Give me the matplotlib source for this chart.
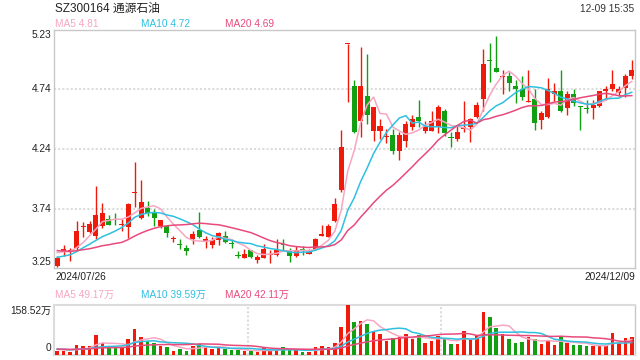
import numpy as np
import pandas as pd
import matplotlib
matplotlib.use("Agg")
import matplotlib.pyplot as plt

plt.rcParams['font.family'] = ['Liberation Sans', 'Noto Sans CJK SC', 'DejaVu Sans']

# daily K-line, 2024/07/26 .. 2024/12/09
opens = [3.27, 3.38, 3.39, 3.42, 3.59, 3.55, 3.52, 3.60, 3.66, 3.66,
         3.61, 3.59, 3.87, 3.67, 3.75, 3.72, 3.60, 3.60, 3.49, 3.45,
         3.42, 3.49, 3.57, 3.47, 3.44, 3.48, 3.52, 3.46, 3.36, 3.33,
         3.40, 3.32, 3.33, 3.36, 3.36, 3.45, 3.39, 3.35, 3.41, 3.37,
         3.41, 3.52, 3.51, 3.64, 3.90, 5.11, 4.76, 4.47, 4.68, 4.39,
         4.39, 4.34, 4.36, 4.22, 4.31, 4.42, 4.51, 4.39, 4.39, 4.42,
         4.56, 4.34, 4.32, 4.41, 4.42, 4.51, 4.66, 4.98, 4.91, 4.84,
         4.85, 4.76, 4.74, 4.63, 4.66, 4.48, 4.51, 4.70, 4.72, 4.58,
         4.70, 4.60, 4.58, 4.58, 4.60, 4.72, 4.74, 4.71, 4.75, 4.85]
highs = [3.35, 3.44, 3.42, 3.64, 3.63, 3.64, 3.93, 3.79, 3.69, 3.71,
         3.66, 3.79, 4.13, 3.98, 3.81, 3.74, 3.65, 3.60, 3.52, 3.49,
         3.44, 3.56, 3.72, 3.52, 3.51, 3.55, 3.56, 3.49, 3.39, 3.41,
         3.40, 3.36, 3.45, 3.40, 3.49, 3.49, 3.42, 3.43, 3.43, 3.41,
         3.50, 3.61, 3.62, 3.83, 4.40, 5.11, 4.81, 5.09, 5.03, 4.59,
         4.49, 4.41, 4.41, 4.38, 4.47, 4.52, 4.65, 4.47, 4.56, 4.61,
         4.57, 4.38, 4.43, 4.64, 4.50, 4.63, 5.07, 5.12, 5.18, 4.90,
         4.88, 4.81, 4.85, 4.90, 4.74, 4.56, 4.83, 4.79, 4.90, 4.72,
         4.74, 4.60, 4.65, 4.65, 4.72, 4.76, 4.90, 4.76, 4.86, 4.98]
lows = [3.26, 3.35, 3.31, 3.40, 3.51, 3.54, 3.49, 3.58, 3.61, 3.61,
        3.56, 3.50, 3.76, 3.66, 3.68, 3.60, 3.58, 3.51, 3.47, 3.41,
        3.36, 3.45, 3.50, 3.42, 3.42, 3.44, 3.46, 3.42, 3.33, 3.33,
        3.33, 3.29, 3.33, 3.29, 3.35, 3.40, 3.30, 3.34, 3.36, 3.37,
        3.40, 3.52, 3.51, 3.63, 3.88, 4.63, 4.37, 4.34, 4.45, 4.31,
        4.32, 4.29, 4.20, 4.15, 4.26, 4.40, 4.42, 4.37, 4.39, 4.37,
        4.35, 4.26, 4.31, 4.38, 4.30, 4.50, 4.56, 4.80, 4.88, 4.70,
        4.72, 4.62, 4.65, 4.63, 4.40, 4.41, 4.50, 4.64, 4.55, 4.52,
        4.60, 4.40, 4.54, 4.49, 4.59, 4.65, 4.72, 4.68, 4.67, 4.82]
closes = [3.33, 3.41, 3.40, 3.56, 3.60, 3.62, 3.69, 3.71, 3.61, 3.65,
          3.62, 3.78, 3.88, 3.80, 3.71, 3.67, 3.65, 3.54, 3.50, 3.44,
          3.39, 3.53, 3.51, 3.49, 3.48, 3.54, 3.47, 3.45, 3.35, 3.37,
          3.34, 3.34, 3.41, 3.37, 3.40, 3.44, 3.35, 3.40, 3.40, 3.38,
          3.49, 3.53, 3.60, 3.78, 4.26, 5.11, 4.38, 4.76, 4.52, 4.59,
          4.43, 4.35, 4.22, 4.36, 4.45, 4.49, 4.47, 4.42, 4.47, 4.59,
          4.37, 4.33, 4.38, 4.42, 4.49, 4.61, 4.95, 4.97, 4.88, 4.85,
          4.79, 4.74, 4.67, 4.64, 4.46, 4.54, 4.74, 4.72, 4.56, 4.70,
          4.62, 4.59, 4.57, 4.61, 4.72, 4.74, 4.78, 4.74, 4.85, 4.90]
# volume, 万
volumes = [12.7, 12.7, 8.5, 31.7, 28.5, 28.5, 63.4, 39.3, 26.4, 26.4,
           21.1, 50.7, 82.4, 57.0, 44.4, 39.3, 28.5, 26.4, 12.7, 19.0,
           12.7, 29.6, 35.9, 26.4, 19.0, 23.2, 19.0, 15.8, 15.8, 12.7,
           12.7, 8.5, 23.2, 12.7, 19.0, 25.4, 15.8, 15.8, 8.5, 8.5,
           24.3, 28.5, 24.3, 39.3, 88.8, 158.52, 103.6, 107.8, 98.3, 74.0,
           66.6, 45.4, 52.8, 56.0, 66.6, 50.7, 63.4, 37.0, 44.4, 61.3,
           52.8, 34.9, 34.9, 76.1, 50.7, 63.4, 137.4, 120.5, 85.6, 66.6,
           50.7, 39.1, 41.2, 56.0, 50.7, 34.9, 45.4, 31.7, 56.0, 39.1,
           31.7, 31.7, 28.5, 28.5, 28.5, 28.5, 69.8, 37.0, 53.9, 57.0]
# sessions before the window, only used to seed the moving averages
prior_close = [3.47, 3.46, 3.45, 3.44, 3.46, 3.45, 3.44, 3.45, 3.44, 3.44,
               3.31, 3.29, 3.30, 3.28, 3.32, 3.37, 3.40, 3.39, 3.40]
prior_vol = [18, 22, 17, 20, 19, 21, 16, 18, 20, 19,
             17, 21, 18, 20, 19, 22, 17, 18, 20]

title = "SZ300164 通源石油"
stamp = "12-09 15:35"
date_first = "2024/07/26"
date_last = "2024/12/09"
ma_price_labels = ["MA5 4.81", "MA10 4.72", "MA20 4.69"]
ma_vol_labels = ["MA5 49.17万", "MA10 39.59万", "MA20 42.11万"]
price_ticks = [3.74, 4.24, 4.74]
ymin, ymax = 3.25, 5.23

RED = '#f01a0a'
GREEN = '#12a012'
MA_COLORS = ['#f7a6c2', '#2fc0e0', '#e84a7c']
GRID = '#dcdcdc'
EDGE = '#c8c8c8'

n = len(closes)
x = np.arange(n)
o = np.array(opens); c = np.array(closes)
h = np.array(highs); l = np.array(lows)
v = np.array(volumes)
up = c >= o
colors = np.where(up, RED, GREEN)

cs = pd.Series(prior_close + closes)
vs = pd.Series(prior_vol + volumes)
k = len(prior_close)

fig = plt.figure(figsize=(6.4, 3.6), dpi=100)
W, H = 640.0, 360.0

def box(x0, y0, x1, y1):
    return [x0 / W, 1 - y1 / H, (x1 - x0) / W, (y1 - y0) / H]

ax = fig.add_axes(box(54, 30, 635, 268))
axv = fig.add_axes(box(54, 305, 635, 355))

# price panel
for yt in price_ticks:
    ax.axhline(yt, color=GRID, lw=1.5, ls=(0, (1, 1)), zorder=0)
ax.vlines(x, l, h, colors=colors, lw=1.0, zorder=2)
body = np.maximum(np.abs(c - o), 0.008)
ax.bar(x, body, bottom=np.minimum(o, c), width=0.78, color=colors, lw=0, zorder=3)
for w, col in zip([5, 10, 20], MA_COLORS):
    ma = cs.rolling(w).mean().values[k:]
    ax.plot(x, ma, color=col, lw=1.1, zorder=4)
ax.set_xlim(-0.5, n - 0.5)
ax.set_ylim(ymin, ymax)
ax.set_xticks([]); ax.set_yticks([])
for s in ax.spines.values():
    s.set_color(EDGE); s.set_linewidth(1.0)

# volume panel
axv.bar(x, v, width=0.55, color=colors, lw=0, zorder=3)
for w, col in zip([5, 10, 20], MA_COLORS):
    ma = vs.rolling(w).mean().values[k:]
    axv.plot(x, ma, color=col, lw=1.1, zorder=4)
for xv in [n / 3 - 0.5, 2 * n / 3 - 0.5]:
    axv.axvline(xv, color=GRID, lw=1.5, ls=(0, (1, 1)), zorder=0)
axv.set_xlim(-0.5, n - 0.5)
axv.set_ylim(0, max(volumes))
axv.set_xticks([]); axv.set_yticks([])
for name, s in axv.spines.items():
    s.set_color(EDGE if name == 'right' else GRID)
    s.set_linewidth(1.0 if name == 'right' else 1.5)
    if name != 'right':
        s.set_linestyle((0, (1, 1)))

def t(px, py, s, **kw):
    fig.text(px / W, 1 - py / H, s, **kw)

t(55, 9, title, fontsize=8.5, va='center', ha='left', color='#222222')
t(634, 9, stamp, fontsize=7.3, va='center', ha='right', color='#333333')
for px, s, col in zip([55, 141, 225], ma_price_labels, MA_COLORS):
    t(px, 24, s, fontsize=7.3, va='center', ha='left', color=col)
for px, s, col in zip([55, 141, 225], ma_vol_labels, MA_COLORS):
    t(px, 295, s, fontsize=7.3, va='center', ha='left', color=col)

# y labels of the price panel
t(51, 35, f"{ymax:.2f}", fontsize=7.3, va='center', ha='right', color='#222222')
t(51, 262, f"{ymin:.2f}", fontsize=7.3, va='center', ha='right', color='#222222')
for yt in price_ticks:
    py = 30 + (ymax - yt) / (ymax - ymin) * 238
    t(51, py, f"{yt:.2f}", fontsize=7.3, va='center', ha='right', color='#222222')

t(55, 277, date_first, fontsize=7.3, va='center', ha='left', color='#222222')
t(635, 277, date_last, fontsize=7.3, va='center', ha='right', color='#222222')
t(51, 311, f"{max(volumes):.2f}万", fontsize=7.3, va='center', ha='right', color='#222222')
t(51, 348, "0", fontsize=7.3, va='center', ha='right', color='#222222')

plt.savefig('out.png', dpi=100)
plt.close()
